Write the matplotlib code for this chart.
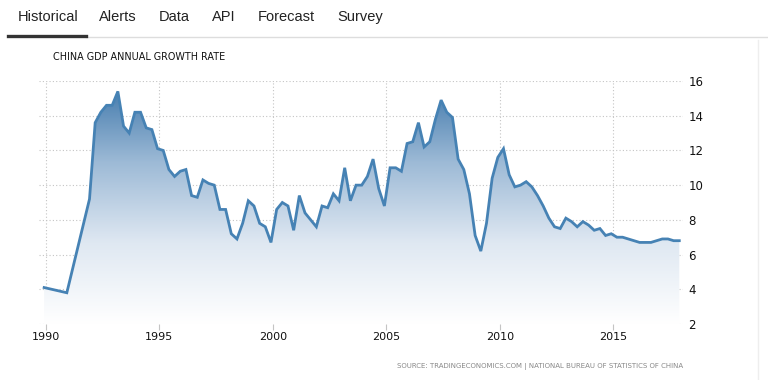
import numpy as np
import matplotlib
matplotlib.use("Agg")
import matplotlib.pyplot as plt
from matplotlib.colors import LinearSegmentedColormap

# annual figures before quarterly data starts
annual_years = [1989, 1990, 1991]
annual_values = [4.1, 3.8, 9.2]

# quarterly y/y growth, 1992Q1 .. 2017Q4
q_start = 1992
q_values = [
    13.6, 14.2, 14.6, 14.6,   # 1992
    15.4, 13.4, 13.0, 14.2,   # 1993
    14.2, 13.3, 13.2, 12.1,   # 1994
    12.0, 10.9, 10.5, 10.8,   # 1995
    10.9, 9.4, 9.3, 10.3,     # 1996
    10.1, 10.0, 8.6, 8.6,     # 1997
    7.2, 6.9, 7.8, 9.1,       # 1998
    8.8, 7.8, 7.6, 6.7,       # 1999
    8.6, 9.0, 8.8, 7.4,       # 2000
    9.4, 8.4, 8.0, 7.6,       # 2001
    8.8, 8.7, 9.5, 9.1,       # 2002
    11.0, 9.1, 10.0, 10.0,    # 2003
    10.5, 11.5, 9.8, 8.8,     # 2004
    11.0, 11.0, 10.8, 12.4,   # 2005
    12.5, 13.6, 12.2, 12.5,   # 2006
    13.8, 14.9, 14.2, 13.9,   # 2007
    11.5, 10.9, 9.5, 7.1,     # 2008
    6.2, 7.8, 10.4, 11.6,     # 2009
    12.1, 10.6, 9.9, 10.0,    # 2010
    10.2, 9.9, 9.4, 8.8,      # 2011
    8.1, 7.6, 7.5, 8.1,       # 2012
    7.9, 7.6, 7.9, 7.7,       # 2013
    7.4, 7.5, 7.1, 7.2,       # 2014
    7.0, 7.0, 6.9, 6.8,       # 2015
    6.7, 6.7, 6.7, 6.8,       # 2016
    6.9, 6.9, 6.8, 6.8,       # 2017
]

x_ticks = [1990, 1995, 2000, 2005, 2010, 2015]
y_ticks = [2, 4, 6, 8, 10, 12, 14, 16]
tabs = ["Historical", "Alerts", "Data", "API", "Forecast", "Survey"]
tab_x = [18, 99, 159, 212, 258, 337]

# points sit at the last month of each period
xs = [y + 11 / 12 for y in annual_years]
for i in range(len(q_values)):
    yr = q_start + i // 4
    q = i % 4 + 1
    xs.append(yr + (3 * q - 1) / 12)
xs = np.array(xs)
ys = np.array(annual_values + q_values)

W, H = 768, 380
fig = plt.figure(figsize=(W / 100, H / 100), dpi=100)
fig.patch.set_facecolor("white")

ax = fig.add_axes([39 / W, 1 - 324 / H, (683 - 39) / W, (324 - 81) / H])
x0, x1 = 1989.69, 2018.08
ax.set_xlim(x0, x1)
ax.set_ylim(2, 16)

# gradient fill under the line
cmap = LinearSegmentedColormap.from_list("te", ["#ffffff", "#dfe8f2", "#9dbad6", "#3d76aa"])
grad = np.linspace(0, 1, 256).reshape(-1, 1)
fill = ax.fill_between(xs, ys, 2, facecolor="none", edgecolor="none")
im = ax.imshow(grad, extent=[x0, x1, 2, 16], aspect="auto", origin="lower",
               cmap=cmap, zorder=1)
im.set_clip_path(fill.get_paths()[0], transform=ax.transData)

ax.plot(xs, ys, color="#4682b4", linewidth=2.0, zorder=3, solid_joinstyle="miter")

ax.set_xticks(x_ticks)
ax.set_yticks(y_ticks)
ax.yaxis.tick_right()
ax.grid(True, color="#c4c4c4", linestyle=(0, (1, 2)), linewidth=0.8, zorder=0)
ax.set_axisbelow(True)
for s in ax.spines.values():
    s.set_visible(False)
ax.tick_params(axis="x", length=4, width=0.8, color="#c4c4c4", pad=2,
               labelsize=8, labelcolor="#111111")
ax.tick_params(axis="y", length=0, pad=4, labelsize=8.5, labelcolor="#111111")
for lab in ax.get_xticklabels():
    lab.set_family(["Liberation Sans Narrow", "DejaVu Sans"])

# header tabs
for t, tx in zip(tabs, tab_x):
    fig.text(tx / W, 1 - 17 / H, t, fontsize=10.5, va="center", ha="left",
             color="#222222", family="Liberation Sans")
fig.add_artist(plt.Line2D([86 / W, 1], [1 - 37 / H, 1 - 37 / H], color="#dddddd",
                          linewidth=1))
fig.add_artist(plt.Line2D([8 / W, 86 / W], [1 - 36 / H, 1 - 36 / H], color="#333333",
                          linewidth=2.4))
fig.add_artist(plt.Line2D([758 / W, 758 / W], [0, 1 - 40 / H], color="#eeeeee",
                          linewidth=1))

fig.text(53 / W, 1 - 57 / H, "CHINA GDP ANNUAL GROWTH RATE", fontsize=6.9,
         va="center", ha="left", color="#111111")
fig.text(683 / W, 1 - 366 / H,
         "SOURCE: TRADINGECONOMICS.COM | NATIONAL BUREAU OF STATISTICS OF CHINA",
         fontsize=5, va="center", ha="right", color="#888888",
         family=["Liberation Sans Narrow", "DejaVu Sans"])

fig.savefig("out.png", dpi=100)
